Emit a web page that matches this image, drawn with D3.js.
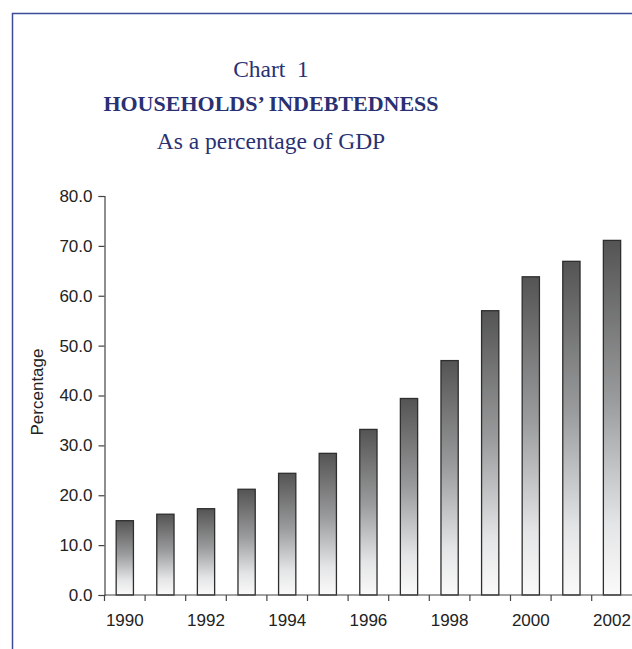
<!DOCTYPE html>
<html>
<head>
<meta charset="utf-8">
<script src="https://cdn.jsdelivr.net/npm/d3@7"></script>
<style>
  html, body { margin: 0; padding: 0; background: #fff; }
  svg { display: block; }
</style>
</head>
<body>
<svg id="chart" width="632" height="649"></svg>
<script>
const years = ["1990","1991","1992","1993","1994","1995","1996","1997","1998","1999","2000","2001","2002"];
const values = [14.9, 16.2, 17.3, 21.2, 24.4, 28.4, 33.2, 39.4, 47.0, 57.0, 63.8, 66.9, 71.1];
const yTicks = [0, 10, 20, 30, 40, 50, 60, 70, 80];
const xLabels = ["1990","1992","1994","1996","1998","2000","2002"];
const titleLines = ["Chart  1", "HOUSEHOLDS\u2019 INDEBTEDNESS", "As a percentage of GDP"];
const yAxisTitle = "Percentage";

const svg = d3.select("#chart");
const navy = "#2a3173";

// frame
svg.append("path")
  .attr("d", "M12.5,700 V13.5 H700")
  .attr("fill", "none")
  .attr("stroke", "#3d4a96")
  .attr("stroke-width", 1.5);

// titles
const tx = 271;
svg.append("text").attr("x", tx).attr("y", 77).attr("text-anchor", "middle")
  .attr("font-family", "Liberation Serif, serif").attr("font-size", 23.5).attr("fill", navy)
  .attr("xml:space", "preserve").style("white-space", "pre")
  .text(titleLines[0]);
svg.append("text").attr("x", tx).attr("y", 111).attr("text-anchor", "middle")
  .attr("font-family", "Liberation Serif, serif").attr("font-size", 22).attr("font-weight", "bold").attr("fill", navy)
  .text(titleLines[1]);
svg.append("text").attr("x", tx).attr("y", 149).attr("text-anchor", "middle")
  .attr("font-family", "Liberation Serif, serif").attr("font-size", 23.5).attr("fill", navy)
  .text(titleLines[2]);

// scales
const x = d3.scaleBand().domain(years).range([104.5, 632.3]).paddingInner(0.575).paddingOuter(0.2875);
const y = d3.scaleLinear().domain([0, 80]).range([595, 196]);

// gradient
const defs = svg.append("defs");
const grad = defs.append("linearGradient").attr("id", "barGrad")
  .attr("x1", 0).attr("y1", 0).attr("x2", 0).attr("y2", 1);
grad.append("stop").attr("offset", "0%").attr("stop-color", "#545454");
grad.append("stop").attr("offset", "45%").attr("stop-color", "#9a9b9c");
grad.append("stop").attr("offset", "80%").attr("stop-color", "#e4e5e6");
grad.append("stop").attr("offset", "100%").attr("stop-color", "#fafafa");

// bars
svg.append("g").selectAll("rect").data(years).join("rect")
  .attr("x", d => x(d))
  .attr("y", (d, i) => y(values[i]))
  .attr("width", x.bandwidth())
  .attr("height", (d, i) => y(0) - y(values[i]))
  .attr("fill", "url(#barGrad)")
  .attr("stroke", "#2e2e2e")
  .attr("stroke-width", 1.3);

// y axis
const yAxis = svg.append("g").attr("transform", "translate(104.5,0)")
  .call(d3.axisLeft(y).tickValues(yTicks).tickFormat(d3.format(".1f")).tickSize(6).tickPadding(6));
yAxis.select(".domain").attr("stroke", "#444").attr("stroke-width", 1.2);
yAxis.selectAll(".tick line").attr("stroke", "#444").attr("stroke-width", 1.2);
yAxis.selectAll(".tick text").attr("font-family", "Liberation Sans, Arial, sans-serif")
  .attr("font-size", 17).attr("fill", "#222");

// x axis line
const xAxis = svg.append("g").attr("transform", `translate(0,${y(0)})`);
xAxis.append("line").attr("x1", 104.5).attr("x2", 640).attr("stroke", "#444").attr("stroke-width", 1.2);
const step = x.step();
const bounds = years.map(d => x(d) - (step - x.bandwidth()) / 2);
xAxis.selectAll("line.tk").data(bounds).join("line").attr("class", "tk")
  .attr("x1", d => d).attr("x2", d => d).attr("y1", 0).attr("y2", 6)
  .attr("stroke", "#444").attr("stroke-width", 1.2);
xAxis.selectAll("text").data(xLabels).join("text")
  .attr("x", d => x(d) + x.bandwidth() / 2)
  .attr("y", 31)
  .attr("text-anchor", "middle")
  .attr("font-family", "Liberation Sans, Arial, sans-serif")
  .attr("font-size", 17).attr("fill", "#222")
  .text(d => d);

// y axis title
svg.append("text")
  .attr("transform", "translate(43,392) rotate(-90)")
  .attr("text-anchor", "middle")
  .attr("font-family", "Liberation Sans, Arial, sans-serif")
  .attr("font-size", 17).attr("fill", "#222")
  .text(yAxisTitle);
</script>
</body>
</html>
